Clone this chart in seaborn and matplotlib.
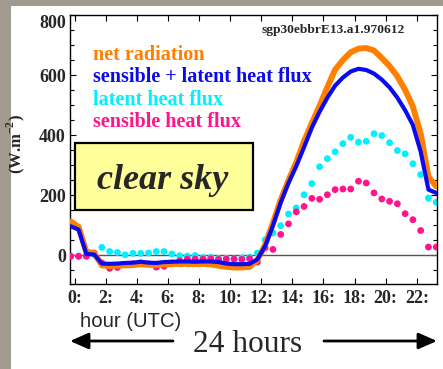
import numpy as np
import pandas as pd
import matplotlib
matplotlib.use("Agg")
import matplotlib.pyplot as plt
import seaborn as sns
from matplotlib.patches import Rectangle, FancyArrowPatch
from matplotlib.ticker import MultipleLocator, NullLocator

# Half-hourly EBBR surface energy fluxes (W m-2), 12 June 1997, SGP E13
hour = np.arange(48) * 0.5 - 0.25

net_radiation = [113, 95, 12, 8, -33, -35, -34, -33, -32, -29, -31, -32,
                 -30, -29, -28, -28, -29, -28, -30, -34, -38, -40, -40, -38,
                 -15, 35, 108, 185, 250, 310, 380, 440, 498, 560, 618, 650,
                 676, 688, 690, 682, 657, 630, 596, 551, 495, 405, 262, 230]

sens_plus_latent = [97, 86, 5, 3, -27, -28, -27, -25, -24, -21, -24, -25,
                    -22, -21, -20, -20, -21, -20, -20, -22, -27, -29, -29, -28,
                    -13, 31, 99, 176, 241, 297, 360, 425, 478, 525, 565, 592,
                    612, 621, 617, 605, 585, 559, 525, 483, 434, 345, 219, 208]

latent_flux = [-2, -2, 0, 3, 27, 13, 10, 2, 7, 7, 8, 13,
               13, 5, -1, -2, 0, -7, -6, -10, -9, -11, -8, -6,
               8, 52, 75, 99, 138, 158, 202, 239, 295, 322, 345, 372,
               393, 377, 380, 405, 399, 375, 349, 338, 305, 269, 191, 177]

sensible_flux = [-3, -3, -3, 8, -25, -43, -40, -30, -28, -25, -28, -39,
                 -36, -25, -18, -12, -12, -12, -11, -13, -12, -12, -13, -11,
                 -22, 25, 20, 70, 105, 145, 163, 190, 187, 202, 219, 221,
                 221, 247, 241, 208, 188, 180, 172, 139, 119, 83, 28, 28]

x_ticks = list(range(0, 24, 2))
x_tick_labels = [f"{h}:" for h in x_ticks]
y_ticks = [0, 200, 400, 600, 800]

legend_entries = ["net radiation", "sensible + latent heat flux",
                  "latent heat flux", "sensible heat flux"]

C_NET = "#ff8000"
C_SUM = "#0a0aee"
C_LAT = "#00f0ff"
C_SEN = "#ff148c"

W, H, DPI = 443, 369, 100

sns.set_style("ticks")
plt.rcParams["font.family"] = ["Liberation Serif", "DejaVu Serif"]
plt.rcParams["mathtext.fontset"] = "custom"
plt.rcParams["mathtext.rm"] = "Liberation Serif"
plt.rcParams["mathtext.bf"] = "Liberation Serif:bold"

fig = plt.figure(figsize=(W / DPI, H / DPI), dpi=DPI)
fig.patch.set_facecolor("#a39a8f")
fig.add_artist(Rectangle((11 / W, 0), 1 - 11 / W, 1 - 6 / H,
                         transform=fig.transFigure, facecolor="white",
                         edgecolor="none", zorder=0))

ax = fig.add_axes([70 / W, 1 - 284 / H, (437 - 70) / W, (284 - 15) / H])
ax.set_facecolor("white")

df = pd.DataFrame({"hour": hour, "net": net_radiation, "sum": sens_plus_latent,
                   "latent": latent_flux, "sensible": sensible_flux})

ax.axhline(0, color="#555555", lw=1.0, zorder=1)
sns.scatterplot(data=df, x="hour", y="latent", color=C_LAT, s=24,
                marker="o", edgecolor="none", ax=ax, zorder=2)
sns.scatterplot(data=df, x="hour", y="sensible", color=C_SEN, s=24,
                marker="o", edgecolor="none", ax=ax, zorder=3)
sns.lineplot(data=df, x="hour", y="net", color=C_NET, lw=4.3,
             estimator=None, ax=ax, zorder=4)
sns.lineplot(data=df, x="hour", y="sum", color=C_SUM, lw=3.0,
             estimator=None, ax=ax, zorder=5)

ax.set_xlim(-0.3, 23.3)
ax.set_ylim(-95, 800)
ax.set_xticks(x_ticks)
ax.set_xticklabels(x_tick_labels)
ax.xaxis.set_minor_locator(NullLocator())
ax.set_yticks(y_ticks)
ax.yaxis.set_minor_locator(MultipleLocator(50))
ax.tick_params(axis="both", which="both", direction="in", top=True,
               right=True, color="black", width=0.8)
ax.tick_params(axis="both", which="major", length=4, labelsize=13, pad=4)
ax.tick_params(axis="y", which="minor", length=3)
ax.tick_params(axis="y", which="major", pad=3)
for lbl in ax.get_xticklabels() + ax.get_yticklabels():
    lbl.set_fontweight("bold")
ax.yaxis.get_major_ticks()[-1].label1.set_va("top")
for sp in ax.spines.values():
    sp.set_color("black")
    sp.set_linewidth(1.0)
ax.set_xlabel("")
ax.set_ylabel(r"(W.m$^{\mathbf{-2}}$)", fontsize=12, fontweight="bold")
ax.yaxis.set_label_coords(-0.118, 0.52)

# legend written as coloured text lines
for txt, col, yb in zip(legend_entries, [C_NET, C_SUM, C_LAT, C_SEN],
                        [60, 82.5, 105, 127.5]):
    fig.text(93 / W, 1 - yb / H, txt, color=col, fontsize=14.5,
             fontweight="bold", va="baseline", ha="left", zorder=6)

fig.text(262 / W, 1 - 33 / H, "sgp30ebbrE13.a1.970612", fontsize=9.7,
         fontweight="bold", va="baseline", ha="left", zorder=6)

fig.add_artist(Rectangle((75 / W, 1 - 210 / H), 178 / W, 67 / H,
                         transform=fig.transFigure, facecolor="#ffff99",
                         edgecolor="black", lw=1.6, zorder=6))
fig.text(97 / W, 1 - 189 / H, "clear sky", fontsize=26, fontstyle="italic",
         fontweight="bold", va="baseline", ha="left", zorder=7)

fig.text(80 / W, 1 - 327 / H, "hour (UTC)", family="Liberation Sans",
         fontsize=14.6, va="baseline", ha="left", zorder=6)
fig.text(193 / W, 1 - 352 / H, "24 hours", fontsize=22.6, va="baseline",
         ha="left", zorder=6)

for tail, tip in [(173, 70), (324, 437)]:
    fig.add_artist(FancyArrowPatch((tail / W, 1 - 341 / H), (tip / W, 1 - 341 / H),
                                   transform=fig.transFigure,
                                   arrowstyle="-|>,head_length=0.8,head_width=0.35",
                                   mutation_scale=14, lw=2, color="black",
                                   shrinkA=0, shrinkB=0, zorder=6))

fig.savefig("out.png", dpi=DPI)
